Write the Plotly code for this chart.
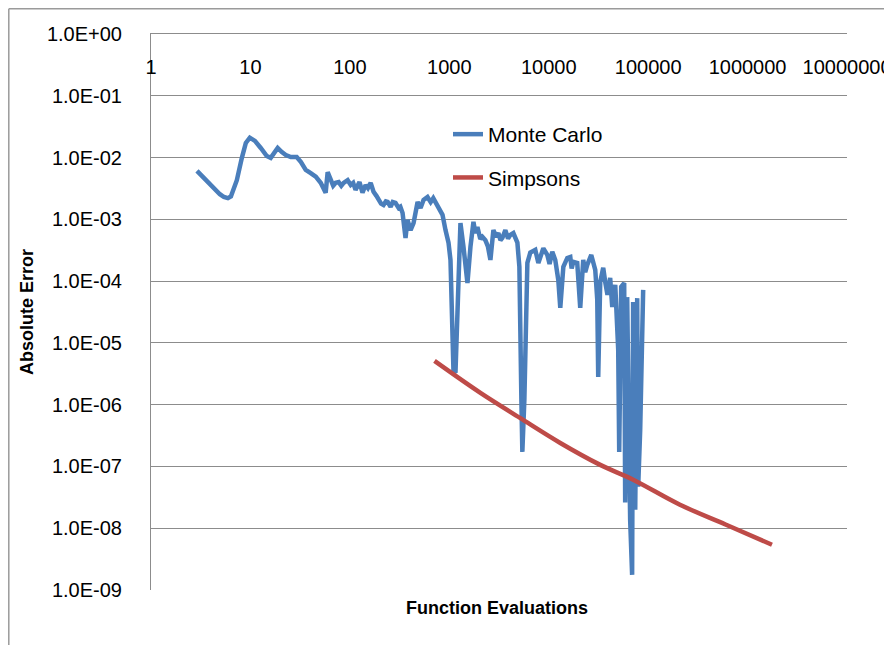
import plotly.graph_objects as go

# Monte Carlo series (function evaluations, absolute error)
mc_evals = [2.9, 3.57, 4.49, 4.93, 5.41, 5.93, 6.36, 6.66, 7.3, 8.2, 8.99, 9.86, 11.1, 12.7, 14.6,
            16.0, 17.6, 18.8,
            20.7, 22.7, 25.5, 29.2, 32.1, 36.0, 40.4, 45.4, 50.9, 57.1, 59.8, 64.1, 68.0, 72.0, 77.2,
            82.0, 86.6, 95.0, 102, 108, 114, 125, 134, 144, 152, 162, 173, 185, 195, 206, 218, 230,
            240, 257, 270, 288, 309, 322, 339, 363, 380, 408, 437, 480, 514, 551, 604, 650, 690,
            765, 855, 916, 982, 1028, 1102, 1154, 1209, 1295, 1389, 1523, 1633, 1750, 1830, 1919,
            2050, 2153, 2307, 2450, 2592, 2778, 2950, 3119, 3270, 3420, 3664, 3900, 4113, 4410,
            4840, 5070, 5310, 5430, 5690, 6100, 6530, 6840, 7330, 7870, 8300, 8830, 9680, 10200,
            10860, 11640, 12480, 13070, 14030, 15380, 16480, 17000, 17660, 19360, 20750, 22240,
            23300, 24410, 26790, 29380, 30770, 31480, 32960, 35330, 37000, 39000, 41500, 43550,
            46670, 50000, 51170, 53580, 57420, 58750, 61520, 63000, 65920, 69020, 70630, 72300,
            74130, 77620, 79430, 83180, 87100, 89130]
mc_error = [6.1e-3, 4.3e-3, 3.0e-3, 2.55e-3, 2.3e-3, 2.2e-3, 2.35e-3, 2.8e-3, 4.3e-3, 9.9e-3,
            1.72e-2, 2.1e-2, 1.86e-2, 1.43e-2, 1.06e-2, 9.9e-3, 1.23e-2, 1.43e-2,
            1.23e-2, 1.10e-2, 1.02e-2, 1.02e-2, 8.5e-3, 6.3e-3,
            5.6e-3, 4.9e-3, 3.9e-3, 2.7e-3, 5.8e-3, 4.3e-3, 3.5e-3, 3.9e-3, 4.0e-3,
            3.5e-3, 3.9e-3, 4.3e-3, 3.6e-3, 3.9e-3, 3.0e-3, 4.0e-3, 2.7e-3, 3.6e-3, 3.2e-3, 3.9e-3,
            2.8e-3, 2.4e-3, 2.06e-3, 1.8e-3, 1.71e-3, 1.95e-3,
            1.91e-3, 1.59e-3, 1.9e-3, 1.84e-3, 1.53e-3, 1.6e-3, 1.27e-3, 5.0e-4, 9.8e-4, 6.7e-4,
            8.7e-4, 1.91e-3, 1.53e-3, 2.06e-3, 2.3e-3, 1.9e-3, 2.2e-3,
            1.59e-3, 1.18e-3, 6.7e-4, 4.2e-4, 2.2e-4, 3.5e-6, 3.3e-6, 5.0e-5, 8.7e-4, 3.6e-4,
            9.3e-5, 3.6e-4, 9.1e-4, 6.0e-4, 7.5e-4,
            4.8e-4, 5.2e-4, 4.6e-4, 3.6e-4, 2.2e-4, 6.7e-4, 5.2e-4, 6.0e-4, 4.6e-4, 5.0e-4,
            6.7e-4, 4.9e-4, 5.6e-4, 6.0e-4,
            4.2e-4, 1.70e-4, 1.2e-6, 1.72e-7, 1.2e-6, 1.97e-4, 2.9e-4, 3.0e-4, 3.2e-4, 1.97e-4,
            2.6e-4, 3.4e-4, 2.65e-4, 1.9e-4,
            3.0e-4, 2.2e-4, 1.05e-4, 3.7e-5, 1.7e-4, 2.37e-4, 2.46e-4, 1.6e-4, 2.05e-4, 1.97e-4,
            3.7e-5, 2.2e-4,
            1.4e-4, 1.83e-4, 2.65e-4, 1.52e-4, 5.0e-5, 2.8e-6, 9.7e-5, 1.64e-4, 9.7e-5, 6.0e-5,
            1.13e-4, 3.8e-5,
            8.7e-5, 7.7e-6, 1.72e-7, 8.1e-5, 9.3e-5, 2.6e-8, 5.5e-5, 2.5e-6, 1.37e-8, 1.76e-9,
            4.6e-5, 5.6e-7,
            2.0e-8, 5.3e-5, 4.7e-8, 3.9e-7, 7.2e-5, 7.2e-5]

# Simpsons series
simp_evals = [710, 2056, 5140, 13070, 32960, 70630, 209000, 600000, 1760000]
simp_error = [5.1e-6, 1.55e-6, 6.1e-7, 2.4e-7, 1.06e-7, 6.1e-8, 2.4e-8, 1.15e-8, 5.4e-9]

# Axis ticks
x_tickvals = [1, 10, 100, 1000, 10000, 100000, 1000000, 10000000]
x_ticktext = ["1", "10", "100", "1000", "10000", "100000", "1000000", "10000000"]
y_tickvals = [1e0, 1e-1, 1e-2, 1e-3, 1e-4, 1e-5, 1e-6, 1e-7, 1e-8, 1e-9]
y_ticktext = ["1.0E+00", "1.0E-01", "1.0E-02", "1.0E-03", "1.0E-04", "1.0E-05",
              "1.0E-06", "1.0E-07", "1.0E-08", "1.0E-09"]

BLUE = "#4A7EBB"
RED = "#BE4B48"
GRID = "#8C8C8C"
FONT = "Liberation Sans"

fig = go.Figure()
fig.add_trace(go.Scatter(x=mc_evals, y=mc_error, mode="lines", name="Monte Carlo",
                         legendgroup="mc", line=dict(color=BLUE, width=4.5)))
fig.add_trace(go.Scatter(x=simp_evals, y=simp_error, mode="lines", name="Simpsons",
                         legendgroup="simp", line=dict(color=RED, width=4.5, shape="spline")))

# the page places the figure 8px from the top-left corner
OFF = 8
W, H = 892 - OFF, 645 - OFF
L, R, T, B = 151 - OFF, 45, 34 - OFF, 55
pw = W - L - R
ph = H - T - B


def px(x):  # page pixel -> paper x
    return (x - OFF - L) / pw


def py(y):  # page pixel -> paper y
    return (H - B - (y - OFF)) / ph


fig.update_layout(
    width=W, height=H,
    margin=dict(l=L, r=R, t=T, b=B, autoexpand=False),
    paper_bgcolor="white", plot_bgcolor="white",
    font=dict(family=FONT, size=19, color="#000000"),
    showlegend=True,
    legend=dict(x=px(448), y=py(114), xanchor="left", yanchor="top",
                bgcolor="rgba(0,0,0,0)", tracegroupgap=13, traceorder="grouped",
                font=dict(family=FONT, size=21, color="#000000")),
    xaxis=dict(type="log", range=[0, 7], side="top", tickvals=x_tickvals, ticktext=x_ticktext,
               showgrid=False, zeroline=False, showline=True, linecolor=GRID, linewidth=1,
               ticks="", ticklabelposition="inside", ticklabelstandoff=27, automargin=False,
               ticklabeloverflow="allow", tickfont=dict(family=FONT, size=20, color="#000000")),
    yaxis=dict(type="log", range=[-9, 0], tickvals=y_tickvals, ticktext=y_ticktext,
               showgrid=True, gridcolor=GRID, gridwidth=1, zeroline=False, automargin=False,
               showline=True, linecolor=GRID, linewidth=1, ticks="", ticklabelstandoff=24,
               tickfont=dict(family=FONT, size=20, color="#000000"),
               title=dict(text="<b>Absolute Error</b>", standoff=8,
                          font=dict(family=FONT, size=18, color="#000000"))),
    annotations=[dict(text="<b>Function Evaluations</b>", xref="paper", yref="paper",
                      x=px(497), y=py(608), xanchor="center", yanchor="middle",
                      showarrow=False, font=dict(family=FONT, size=18, color="#000000"))],
    shapes=[
        dict(type="line", xref="paper", yref="paper", x0=px(8.8), x1=px(8.8),
             y0=py(8.8), y1=py(660), line=dict(color="#9A9A9A", width=1.5)),
        dict(type="line", xref="paper", yref="paper", x0=px(8.8), x1=px(900),
             y0=py(8.8), y1=py(8.8), line=dict(color="#9A9A9A", width=1.5)),
    ],
)

fig.write_html("out.html")
